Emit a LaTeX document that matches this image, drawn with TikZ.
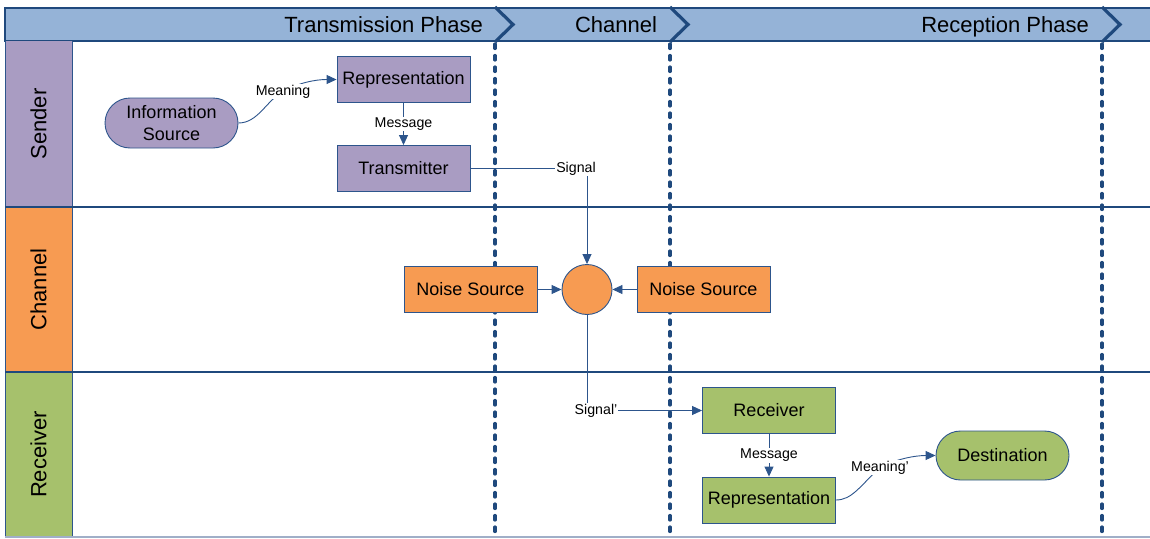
\documentclass[tikz,border=0pt]{standalone}
\usepackage{fontspec}
\setmainfont{Liberation Sans}
\usetikzlibrary{arrows.meta,shapes.misc}
\pgfdeclarelayer{bg}
\pgfdeclarelayer{edges}
\pgfsetlayers{bg,edges,main}
\definecolor{hdr}{RGB}{149,179,215}
\definecolor{dk}{RGB}{31,73,125}
\definecolor{purp}{RGB}{169,156,194}
\definecolor{orng}{RGB}{247,155,82}
\definecolor{grn}{RGB}{166,193,108}
\definecolor{edgec}{RGB}{45,85,140}
\definecolor{botc}{RGB}{160,175,200}
\begin{document}
\begin{tikzpicture}[x=1pt,y=-1pt,
  box/.style={draw=edgec, line width=0.9pt, minimum width=133pt, minimum height=46pt,
    inner sep=0pt, font=\fontsize{18}{21}\selectfont},
  term/.style={draw=edgec, line width=0.9pt, rounded rectangle, minimum width=133pt,
    minimum height=50pt, inner sep=0pt, align=center, font=\fontsize{18}{21.5}\selectfont},
  lbl/.style={fill=white, inner sep=1pt, font=\fontsize{14.2}{16}\selectfont},
  conn/.style={draw=edgec, line width=0.9pt, -{Triangle[length=10pt,width=9pt]}},
  lanelbl/.style={rotate=90, font=\fontsize{22}{25}\selectfont},
  phase/.style={font=\fontsize{22}{26}\selectfont},
  sep/.style={draw=dk, line width=3.2pt, dash pattern=on 4.5pt off 7pt, line cap=round},
  chev/.style={draw=dk, line width=3.2pt}
]
\useasboundingbox (0,0) rectangle (1150,538);

\begin{pgfonlayer}{bg}
  % header band
  \fill[hdr] (5,8) rectangle (1150,41);
  \draw[dk, line width=1.2pt] (1150,8) -- (5,8) -- (5,41) -- (1150,41);
  % lanes
  \fill[purp] (5,41) rectangle (72,207);
  \fill[orng] (5,207) rectangle (72,372);
  \fill[grn] (5,372) rectangle (72,537);
  \draw[edgec, line width=1pt] (5,41) -- (5,537);
  \draw[edgec, line width=1pt] (72,41) -- (72,537);
  \draw[dk, line width=1.1pt] (5,207) -- (1150,207);
  \draw[dk, line width=1.1pt] (5,372) -- (1150,372);
  \draw[botc, line width=1.2pt] (5,537) -- (1150,537);
  % phase separators
  \draw[sep] (495,44) -- (495,538);
  \draw[sep] (670,44) -- (670,538);
  \draw[sep] (1102,44) -- (1102,538);
  % chevrons
  \draw[chev] (495,7) -- (513,24.5) -- (495,42);
  \draw[chev] (670,7) -- (688,24.5) -- (670,42);
  \draw[chev] (1102,7) -- (1120,24.5) -- (1102,42);
\end{pgfonlayer}

% phase titles
\node[phase, anchor=base east, inner sep=0pt] (ph1) at (483,32) {Transmission Phase};
\node[phase, anchor=base, inner sep=0pt] (ph2) at (616,32) {Channel};
\node[phase, anchor=base east, inner sep=0pt] (ph3) at (1089,32) {Reception Phase};

% lane titles
\node[lanelbl] (l1) at (38.5,124) {Sender};
\node[lanelbl] (l2) at (38.5,289.5) {Channel};
\node[lanelbl] (l3) at (38.5,454.5) {Receiver};

% sender nodes
\node[term, fill=purp] (src) at (171.5,123) {Information\\Source};
\node[box, fill=purp] (rep1) at (403.5,79.5) {Representation};
\node[box, fill=purp] (tx) at (403.5,168.5) {Transmitter};

% channel nodes
\node[circle, draw=edgec, line width=0.9pt, fill=orng, minimum size=50pt, inner sep=0pt] (sum) at (587,289.5) {};
\node[box, fill=orng] (ns1) at (470.5,289.5) {Noise Source};
\node[box, fill=orng] (ns2) at (703.5,289.5) {Noise Source};

% receiver nodes
\node[box, fill=grn] (rec) at (769,410.5) {Receiver};
\node[box, fill=grn] (rep2) at (769,500) {Representation};
\node[term, fill=grn, minimum height=49pt] (dst) at (1002.5,455.5) {Destination};

% curved-connector labels
\node[lbl] (m1) at (283,91.5) {Meaning};
\node[lbl] (m2) at (880,467.5) {Meaning’};

\begin{pgfonlayer}{edges}
  \draw[conn, -] (src.east) .. controls (258,123) and (266,101) .. (m1.center);
  \draw[conn] (m1.center) .. controls (298,83) and (315,79.5) .. (rep1.west);
  \draw[conn, -] (rep2.east) .. controls (852,500) and (860,486) .. (m2.center);
  \draw[conn] (m2.center) .. controls (896,459) and (915,455.5) .. (dst.west);
\end{pgfonlayer}

\draw[conn] (rep1.south) -- node[lbl] (msg1) {Message} (tx.north);
\draw[conn] (rec.south) -- node[lbl] (msg2) {Message} (rep2.north);
\draw[conn] (tx.east) -| node[lbl, pos=0.5, xshift=-11pt] (sig) {Signal} (sum.north);
\draw[conn] (sum.south) |- node[lbl, pos=0.5, xshift=9pt] (sig2) {Signal’} (rec.west);
\draw[conn] (ns1.east) -- (sum.west);
\draw[conn] (ns2.west) -- (sum.east);
\end{tikzpicture}
\end{document}
